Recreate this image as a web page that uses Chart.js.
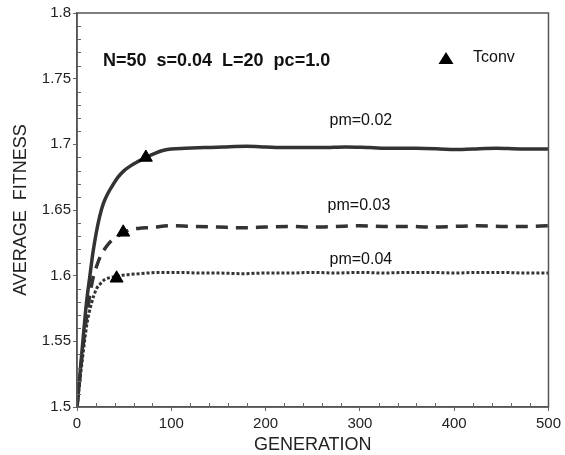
<!DOCTYPE html>
<html>
<head>
<meta charset="utf-8">
<script src="https://cdn.jsdelivr.net/npm/chart.js@4"></script>
<style>
html,body{margin:0;padding:0;background:#fff;}
#wrap{width:565px;height:455px;position:relative;}
</style>
</head>
<body>
<div id="wrap"><canvas id="c" width="565" height="455"></canvas></div>
<script>
// ---- data ----
const genPm002 = [0,3,6.6,10,13.7,17,20,24,28,33,38,43.5,50,57.6,65,73,82,92,100,115,135,155,180,200,220,240,260,285,310,335,360,385,400,420,445,470,500];
const fitPm002 = [1.5,1.524,1.553,1.579,1.600,1.618,1.631,1.645,1.655,1.663,1.669,1.675,1.680,1.684,1.687,1.690,1.693,1.6955,1.6965,1.697,1.6975,1.698,1.6985,1.698,1.6975,1.6975,1.6975,1.698,1.6975,1.697,1.697,1.6965,1.696,1.6965,1.697,1.6965,1.6965];

const genPm003 = [0,5,10,14,17.2,20.7,25,31,37,43,48.7,56,65,78.6,100,125,150,175,200,225,250,275,300,325,350,375,400,425,450,475,500];
const fitPm003 = [1.5,1.537,1.568,1.587,1.599,1.607,1.615,1.622,1.627,1.630,1.6325,1.635,1.636,1.6367,1.638,1.6375,1.637,1.6365,1.637,1.6375,1.637,1.6375,1.638,1.6375,1.6375,1.637,1.6375,1.638,1.6375,1.6375,1.638];

const genPm004 = [0,5,10.5,15.4,20.7,25,29.5,35,42,50,61,75,90,110,130,150,175,200,225,250,275,300,325,350,375,400,425,450,475,500];
const fitPm004 = [1.5,1.532,1.563,1.579,1.590,1.594,1.597,1.5985,1.5995,1.6005,1.6012,1.602,1.6025,1.6025,1.602,1.602,1.6015,1.602,1.602,1.6025,1.602,1.6025,1.602,1.6025,1.6025,1.602,1.6025,1.6025,1.602,1.602];

const tconvGen = [73, 49, 42];
const tconvFit = [1.690, 1.633, 1.598];

const seriesLabels = ['pm=0.02', 'pm=0.03', 'pm=0.04'];
const labelGen = [301, 299, 301];
const labelFit = [1.718, 1.653, 1.612];

const paramText = 'N=50  s=0.04  L=20  pc=1.0';
const legendText = 'Tconv';
const xTitle = 'GENERATION';
const yTitle = 'AVERAGE  FITNESS';

const FONT = '"Liberation Sans", Arial, Helvetica, sans-serif';
const INK = '#333333';

function pts(xs, ys){ return xs.map((x,i)=>({x:x, y:ys[i]})); }

const annot = {
  id: 'annot',
  afterDraw(chart){
    const ctx = chart.ctx, a = chart.chartArea;
    const xs = chart.scales.x, ys = chart.scales.y;
    ctx.save();
    // frame
    ctx.strokeStyle = '#555';
    ctx.lineWidth = 1.5;
    ctx.strokeRect(a.left, a.top, a.right - a.left, a.bottom - a.top);
    // minor ticks (inside)
    ctx.lineWidth = 1;
    ctx.strokeStyle = '#666';
    ctx.beginPath();
    for (let k = 150; k <= 180; k++) {
      if (k % 5 === 0) continue;
      const py = Math.round(ys.getPixelForValue(k/100)) + 0.5;
      ctx.moveTo(a.left, py); ctx.lineTo(a.left + 4, py);
    }
    for (let g = 0; g <= 500; g += 20) {
      if (g % 100 === 0) continue;
      const px = Math.round(xs.getPixelForValue(g)) + 0.5;
      ctx.moveTo(px, a.bottom); ctx.lineTo(px, a.bottom - 4);
    }
    ctx.stroke();
    // series labels
    ctx.fillStyle = '#111';
    ctx.font = '16px ' + FONT;
    ctx.textAlign = 'center';
    ctx.textBaseline = 'middle';
    seriesLabels.forEach((t,i)=>{
      ctx.fillText(t, xs.getPixelForValue(labelGen[i]), ys.getPixelForValue(labelFit[i]));
    });
    // parameter text
    ctx.font = 'bold 18px ' + FONT;
    ctx.textAlign = 'left';
    ctx.fillText(paramText, a.left + 26, a.top + 48);
    // legend
    const lx = a.left + 369, ly = a.top + 45;
    ctx.beginPath();
    ctx.moveTo(lx, ly - 6);
    ctx.lineTo(lx + 7.5, ly + 6);
    ctx.lineTo(lx - 7.5, ly + 6);
    ctx.closePath();
    ctx.fillStyle = '#000';
    ctx.fill();
    ctx.fillStyle = '#111';
    ctx.font = '16px ' + FONT;
    ctx.fillText(legendText, lx + 27, ly);
    ctx.restore();
  }
};

new Chart(document.getElementById('c'), {
  type: 'scatter',
  data: {
    datasets: [
      { type:'line', label: seriesLabels[0], data: pts(genPm002, fitPm002), borderColor: INK, borderWidth: 3.5, pointRadius: 0, cubicInterpolationMode: 'monotone', fill: false, order: 2 },
      { type:'line', label: seriesLabels[1], data: pts(genPm003, fitPm003), borderColor: INK, borderWidth: 3.5, borderDash: [12, 8], pointRadius: 0, cubicInterpolationMode: 'monotone', fill: false, order: 2 },
      { type:'line', label: seriesLabels[2], data: pts(genPm004, fitPm004), borderColor: INK, borderWidth: 3, borderDash: [3, 2], pointRadius: 0, cubicInterpolationMode: 'monotone', fill: false, order: 2 },
      { type:'scatter', label: legendText, data: pts(tconvGen, tconvFit), pointStyle: 'triangle', pointRadius: 7.5, backgroundColor: '#000', borderColor: '#000', borderWidth: 1, order: 1 }
    ]
  },
  options: {
    responsive: false,
    animation: false,
    events: [],
    layout: { padding: { left: 0, right: 13, top: 13, bottom: 0 } },
    plugins: { legend: { display: false }, tooltip: { enabled: false } },
    scales: {
      x: {
        type: 'linear', min: 0, max: 500,
        ticks: { stepSize: 100, color: '#222', font: { family: FONT, size: 15 }, padding: 4, maxRotation: 0 },
        grid: { drawOnChartArea: false, tickLength: 4, color: '#666', lineWidth: 1 },
        border: { display: true, color: '#555', width: 1.5 },
        title: { display: true, text: xTitle, color: '#222', font: { family: FONT, size: 18, lineHeight: 1 }, padding: { top: 0, bottom: 1 } },
        afterFit(s){ s.height = 48; }
      },
      y: {
        type: 'linear', min: 1.5, max: 1.8,
        ticks: { stepSize: 0.05, color: '#222', font: { family: FONT, size: 15 }, padding: 2, callback: v => String(+v.toFixed(2)) },
        grid: { drawOnChartArea: false, tickLength: 4, color: '#666', lineWidth: 1 },
        border: { display: true, color: '#555', width: 1.5 },
        title: { display: true, text: yTitle, color: '#222', font: { family: FONT, size: 18, lineHeight: 1 }, padding: { top: 12.5, bottom: 0 } },
        afterFit(s){ s.width = 77; }
      }
    }
  },
  plugins: [annot]
});
</script>
</body>
</html>
